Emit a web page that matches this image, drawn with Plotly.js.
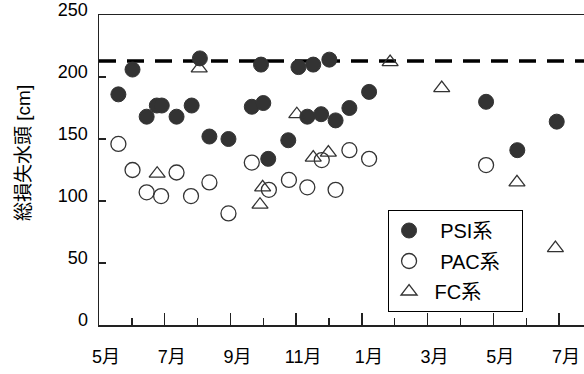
<!DOCTYPE html>
<html>
<head>
<meta charset="utf-8">
<script src="https://cdn.plot.ly/plotly-3.0.1.min.js"></script>
<style>html,body{margin:0;padding:0;background:#fff}#chart{width:584px;height:374px}</style>
</head>
<body>
<div id="chart"></div>
<script>
// x: months after the first "5月" tick
const monthTickVals = [0, 2, 4, 6, 8, 10, 12, 14];
const monthTickText = ["5月", "7月", "9月", "11月", "1月", "3月", "5月", "7月"];
const minorTickVals = [1, 3, 5, 7, 9, 11, 13];
const yTickVals = [0, 50, 100, 150, 200, 250];

const psiX = [0.59,1.02,1.45,1.76,1.91,2.36,2.82,3.07,3.36,3.94,4.65,4.93,5.0,5.15,5.76,6.07,6.34,6.52,6.76,7.01,7.2,7.62,8.22,11.78,12.73,13.93];
const psiY = [186,206,168,177,177,168,177,215,152,150,176,210,179,134,149,208,168,210,170,214,165,175,188,180,141,164];

const pacX = [0.59,1.02,1.45,1.89,2.36,2.8,3.36,3.94,4.65,5.17,5.78,6.34,6.78,7.2,7.62,8.22,11.78];
const pacY = [146,125,107,104,123,104,115,90,131,109,117,111,133,109,141,134,129];

const fcX = [1.77,3.05,4.9,4.98,6.02,6.52,6.98,8.86,10.43,12.72,13.89];
const fcY = [122,207,97,111,170,135,139,212,191,115,62];

const thresholdX = [0, 14.8];
const thresholdValue = 213;

const seriesNames = ['\u00a0\u00a0PSI系', '\u00a0\u00a0PAC系\u00a0\u00a0\u00a0', '\u00a0FC系'];

const ink = '#333333';
const font = 'Liberation Sans, Arial, Noto Sans CJK JP, sans-serif';

const traces = [
  {x: thresholdX, y: thresholdX.map(() => thresholdValue), mode: 'lines', showlegend: false,
   line: {color: '#000', width: 3.5, dash: '17px,11px'}, hoverinfo: 'skip'},
  {x: psiX, y: psiY, mode: 'markers', name: seriesNames[0], legendgroup: 'a',
   marker: {symbol: 'circle', size: 15, color: ink, line: {color: ink, width: 1}}},
  {x: pacX, y: pacY, mode: 'markers', name: seriesNames[1], legendgroup: 'b',
   marker: {symbol: 'circle-open', size: 15, color: ink, line: {color: ink, width: 1.3}}},
  {x: fcX, y: fcY, mode: 'markers', name: seriesNames[2], legendgroup: 'c',
   marker: {symbol: 'triangle-up-open', size: 14, color: ink, line: {color: ink, width: 1.3}}}
];

const layout = {
  width: 584, height: 374,
  margin: {l: 99, r: 0, t: 15, b: 49},
  paper_bgcolor: '#fff', plot_bgcolor: '#fff',
  font: {family: font, size: 18, color: '#000'},
  showlegend: true,
  legend: {x: 0.596, y: 0.371, xanchor: 'left', yanchor: 'top',
    bgcolor: '#fff', bordercolor: '#000', borderwidth: 1,
    font: {family: font, size: 20, color: '#000'}, tracegroupgap: 1.5,
    itemwidth: 30},
  xaxis: {
    range: [0, 14.76], showgrid: false, zeroline: false,
    showline: true, linecolor: '#222', linewidth: 1.5, mirror: true,
    tickmode: 'array', tickvals: monthTickVals, ticktext: monthTickText,
    ticks: 'inside', ticklen: 12, tickwidth: 1.3, tickcolor: '#222',
    ticklabelshift: 7, ticklabelstandoff: 15,
    tickfont: {family: font, size: 18, color: '#000'},
    minor: {tickmode: 'array', tickvals: minorTickVals, ticks: 'inside', ticklen: 7, tickwidth: 1.3, tickcolor: '#222', showgrid: false}
  },
  yaxis: {
    range: [0, 250], showgrid: false, zeroline: false,
    showline: true, linecolor: '#222', linewidth: 1.5,
    tickmode: 'array', tickvals: yTickVals,
    ticks: 'inside', ticklen: 7, tickwidth: 1.3, tickcolor: '#222',
    ticklabelshift: -5, ticklabelstandoff: 6,
    tickfont: {family: font, size: 18, color: '#000'}
  },
  annotations: [{
    text: '総損失水頭 [cm]', textangle: -90, showarrow: false,
    xref: 'paper', yref: 'paper', x: (23 - 99) / 485, y: (325 - 153) / 310,
    xanchor: 'center', yanchor: 'middle',
    font: {family: font, size: 19, color: '#000'}
  }]
};

Plotly.newPlot('chart', traces, layout, {displayModeBar: false, staticPlot: true});
</script>
</body>
</html>
